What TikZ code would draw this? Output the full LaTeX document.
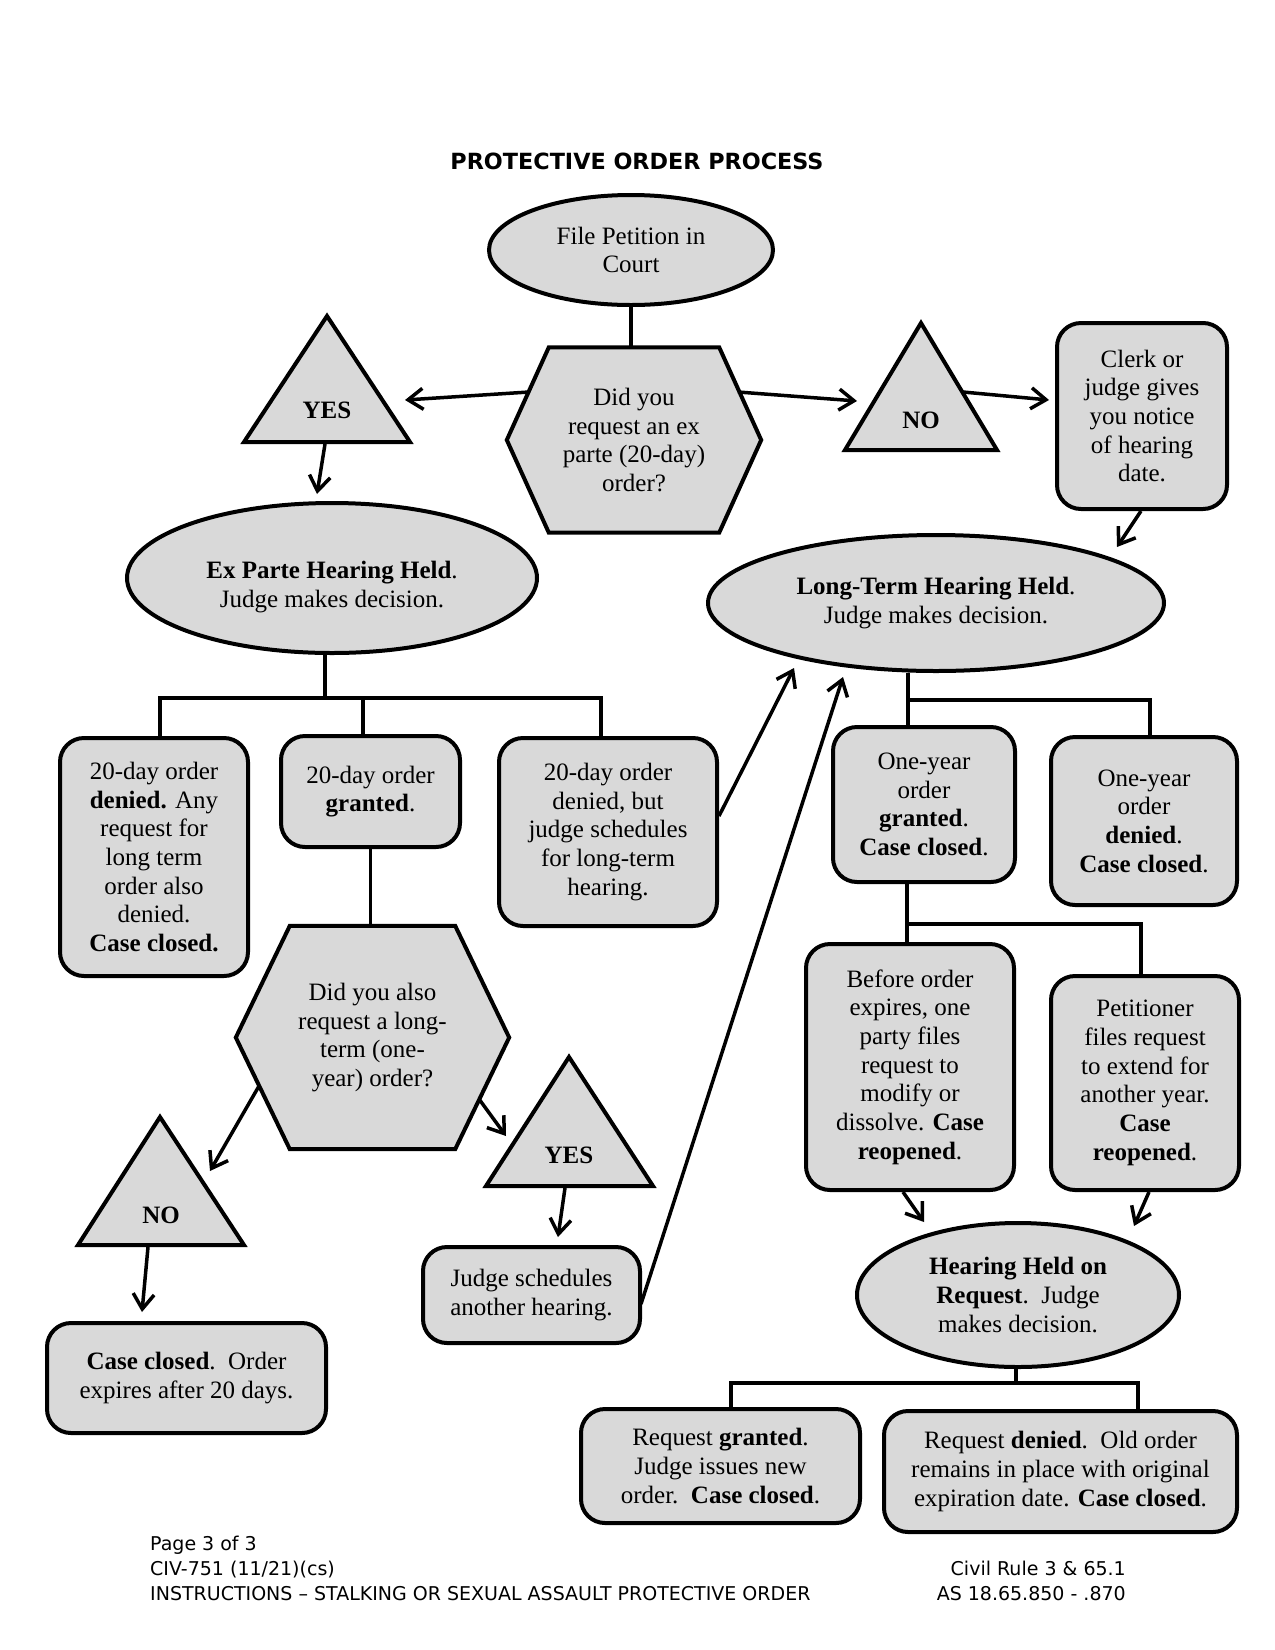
\documentclass[tikz,border=0pt]{standalone}
\usepackage{fontspec}
\setmainfont{Liberation Serif}
\newfontfamily\djsans{DejaVu Sans}
\usetikzlibrary{shapes.geometric,arrows.meta,backgrounds}
\definecolor{boxgray}{RGB}{217,217,217}
\newcommand\nodefont{\fontsize{25}{28.7}\selectfont}
\newcommand\footfnt{\djsans\fontsize{19}{25}\selectfont}
\begin{document}
\begin{tikzpicture}[x=1pt,y=-1pt,
  shp/.style={draw=black, line width=4pt, fill=boxgray, line join=miter},
  txtdown/.style={execute at begin node={\rule{0pt}{23pt}}},
  rbox/.style={shp, rounded corners=24pt, align=center, inner sep=0pt, font=\nodefont},
  ell/.style={shp, ellipse, align=center, inner sep=0pt, font=\nodefont},
  txt/.style={align=center, inner sep=0pt, font=\nodefont},
  btxt/.style={align=center, inner sep=0pt, font=\nodefont\bfseries},
  conn/.style={line width=3.5pt},
  arr/.style={line width=3.5pt, -{Straight Barb[length=15pt,width=21pt]}},
  foot/.style={inner sep=0pt, font=\footfnt}
]
\useasboundingbox (0,0) rectangle (1275,1650);

% title
\node[txt, font={\djsans\bfseries\fontsize{22.3}{26}\selectfont}] (title) at (637,161) {PROTECTIVE ORDER PROCESS};

% triangle vertices
\coordinate (yes1a) at (327,316); \coordinate (yes1r) at (410,442); \coordinate (yes1l) at (244,442);
\coordinate (no1a) at (921,323);  \coordinate (no1r) at (997,450);  \coordinate (no1l) at (845,450);
\coordinate (no2a) at (160,1117); \coordinate (no2r) at (244,1245); \coordinate (no2l) at (78,1245);
\coordinate (yes2a) at (569,1057); \coordinate (yes2r) at (653,1186); \coordinate (yes2l) at (486,1186);

% nodes
\node[ell, minimum width=284pt, minimum height=110pt] (petition) at (631,250) {File Petition in\\Court};
\node[txt, txtdown, minimum width=254pt, minimum height=185pt] (hex1) at (634,440) {Did you\\request an ex\\parte (20-day)\\order?};
\node[btxt] (yes1) at (327,410) {YES};
\node[btxt] (no1) at (921,420) {NO};
\node[rbox, txtdown, minimum width=170pt, minimum height=186pt] (clerk) at (1142,416) {Clerk or\\judge gives\\you notice\\of hearing\\date.};
\node[ell, minimum width=410pt, minimum height=150pt] (expart) at (332,578) {};
\node[txt] (expartt) at (332,587) {\textbf{Ex Parte Hearing Held}.\\Judge makes decision.};
\node[ell, txtdown, minimum width=456pt, minimum height=136pt] (longterm) at (936,603) {\textbf{Long-Term Hearing Held}.\\Judge makes decision.};

\node[rbox, txtdown, minimum width=188pt, minimum height=238pt] (den20) at (154,857) {20-day order\\\textbf{denied.} Any\\request for\\long term\\order also\\denied.\\\textbf{Case closed.}};
\node[rbox, txtdown, minimum width=179pt, minimum height=111pt] (gr20) at (370.5,791.5) {20-day order\\\textbf{granted}.};
\node[rbox, txtdown, minimum width=218pt, minimum height=188pt] (dls) at (608,832) {20-day order\\denied, but\\judge schedules\\for long-term\\hearing.};

\node[txt, txtdown, minimum width=273pt, minimum height=223pt] (hex2) at (372.5,1037.5) {Did you also\\request a long-\\term (one-\\year) order?};
\node[btxt] (no2) at (161,1215) {NO};
\node[btxt] (yes2) at (569,1155) {YES};
\node[rbox, txtdown, minimum width=279pt, minimum height=110pt] (closed20) at (186.5,1378) {\textbf{Case closed}.\ \ Order\\expires after 20 days.};
\node[rbox, minimum width=217pt, minimum height=96pt] (judge) at (531.5,1295) {Judge schedules\\another hearing.};

\node[rbox, txtdown, minimum width=182pt, minimum height=155pt] (oygr) at (924,804.5) {One-year\\order\\\textbf{granted}.\\\textbf{Case closed}.};
\node[rbox, txtdown, minimum width=186pt, minimum height=168pt] (oyden) at (1144,821) {One-year\\order\\\textbf{denied}.\\\textbf{Case closed}.};
\node[rbox, txtdown, minimum width=208pt, minimum height=246pt] (modify) at (910,1067) {Before order\\expires, one\\party files\\request to\\modify or\\dissolve. \textbf{Case}\\\textbf{reopened}.};
\node[rbox, txtdown, minimum width=188pt, minimum height=214pt] (extend) at (1145,1083) {Petitioner\\files request\\to extend for\\another year.\\\textbf{Case}\\\textbf{reopened}.};
\node[ell, minimum width=322pt, minimum height=144pt] (hearing) at (1018,1295) {\textbf{Hearing Held on}\\\textbf{Request}.\ \ Judge\\makes decision.};
\node[rbox, txtdown, minimum width=279pt, minimum height=114pt] (reqgr) at (720.5,1466) {Request \textbf{granted}.\\Judge issues new\\order.\ \ \textbf{Case closed}.};
\node[rbox, txtdown, minimum width=353pt, minimum height=121pt] (reqden) at (1060.5,1471.5) {Request \textbf{denied}.\ \ Old order\\remains in place with original\\expiration date. \textbf{Case closed}.};

% footer
\node[foot, anchor=base west] (f1) at (150,1550) {Page 3 of 3};
\node[foot, anchor=base west] (f2) at (150,1575) {CIV-751 (11/21)(cs)};
\node[foot, anchor=base west] (f3) at (150,1600.5) {INSTRUCTIONS – STALKING OR SEXUAL ASSAULT PROTECTIVE ORDER};
\node[foot, anchor=base east] (f4) at (1126,1575) {Civil Rule 3 \& 65.1};
\node[foot, anchor=base east] (f5) at (1126,1600.5) {AS 18.65.850 - .870};

% background shapes
\begin{scope}[on background layer]
\fill[white] (0,0) rectangle (1275,1650);
\draw[shp] (hex1.west) -- ([xshift=42pt]hex1.north west) -- ([xshift=-42pt]hex1.north east) -- (hex1.east) -- ([xshift=-42pt]hex1.south east) -- ([xshift=42pt]hex1.south west) -- cycle;
\draw[shp] (hex2.west) -- ([xshift=54pt]hex2.north west) -- ([xshift=-54pt]hex2.north east) -- (hex2.east) -- ([xshift=-54pt]hex2.south east) -- ([xshift=54pt]hex2.south west) -- cycle;
\draw[shp] (yes1a) -- (yes1r) -- (yes1l) -- cycle;
\draw[shp] (no1a) -- (no1r) -- (no1l) -- cycle;
\draw[shp] (no2a) -- (no2r) -- (no2l) -- cycle;
\draw[shp] (yes2a) -- (yes2r) -- (yes2l) -- cycle;
\end{scope}

% tree connectors
\draw[conn] (petition.south) -- (petition.south |- hex1.north);
\coordinate (exj) at (325,698); \coordinate (exl) at (160,698); \coordinate (exm) at (363,698); \coordinate (exr) at (601,698);
\draw[conn] (exj |- expart.south) -- (exj);
\draw[conn] (exl |- den20.north) -- (exl) -- (exr) -- (exr |- dls.north);
\draw[conn] (exm) -- (exm |- gr20.north);
\draw[conn] (gr20.south) -- (gr20.south |- hex2.north);
\coordinate (ltl) at (908,700); \coordinate (ltr) at (1150,700);
\draw[conn] (ltl |- longterm.south) -- (ltl |- oygr.north);
\draw[conn] (ltl) -- (ltr) -- (ltr |- oyden.north);
\coordinate (ogl) at (907,924); \coordinate (ogr) at (1141,924);
\draw[conn] (ogl |- oygr.south) -- (ogl |- modify.north);
\draw[conn] (ogl) -- (ogr) -- (ogr |- extend.north);
\coordinate (hjm) at (1016,1383); \coordinate (hjl) at (731,1383); \coordinate (hjr) at (1138,1383);
\draw[conn] (hjm |- hearing.south) -- (hjm);
\draw[conn] (hjl |- reqgr.north) -- (hjl) -- (hjr) -- (hjr |- reqden.north);

% arrow end points
\coordinate (h1l) at (529,392);   \coordinate (y1in) at (405,400);
\coordinate (h1r) at (738,392);   \coordinate (n1in) at (857,401);
\coordinate (n1out) at (963,392); \coordinate (clin) at (1049,400);
\coordinate (y1out) at (325,444); \coordinate (exin) at (317,494);
\coordinate (clout) at (1141,511); \coordinate (ltin1) at (1117,547);
\coordinate (dlsout) at (719,816); \coordinate (ltin2) at (794,668);
\coordinate (jdout) at (641,1304); \coordinate (ltin3) at (843,677);
\coordinate (h2l) at (259,1086);  \coordinate (n2in) at (210,1171);
\coordinate (n2out) at (148,1247); \coordinate (c20in) at (142,1312);
\coordinate (h2r) at (479,1099);  \coordinate (y2in) at (506,1136);
\coordinate (y2out) at (565,1188); \coordinate (jdin) at (558,1237);
\coordinate (mdout) at (903,1192); \coordinate (hrin1) at (924,1222);
\coordinate (etout) at (1149,1192); \coordinate (hrin2) at (1134,1226);

\draw[arr] (h1l) -- (y1in);
\draw[arr] (h1r) -- (n1in);
\draw[arr] (n1out) -- (clin);
\draw[arr] (y1out) -- (exin);
\draw[arr] (clout) -- (ltin1);
\draw[arr] (dlsout) -- (ltin2);
\draw[arr] (jdout) -- (ltin3);
\draw[arr] (h2l) -- (n2in);
\draw[arr] (n2out) -- (c20in);
\draw[arr] (h2r) -- (y2in);
\draw[arr] (y2out) -- (jdin);
\draw[arr] (mdout) -- (hrin1);
\draw[arr] (etout) -- (hrin2);
\end{tikzpicture}
\end{document}
